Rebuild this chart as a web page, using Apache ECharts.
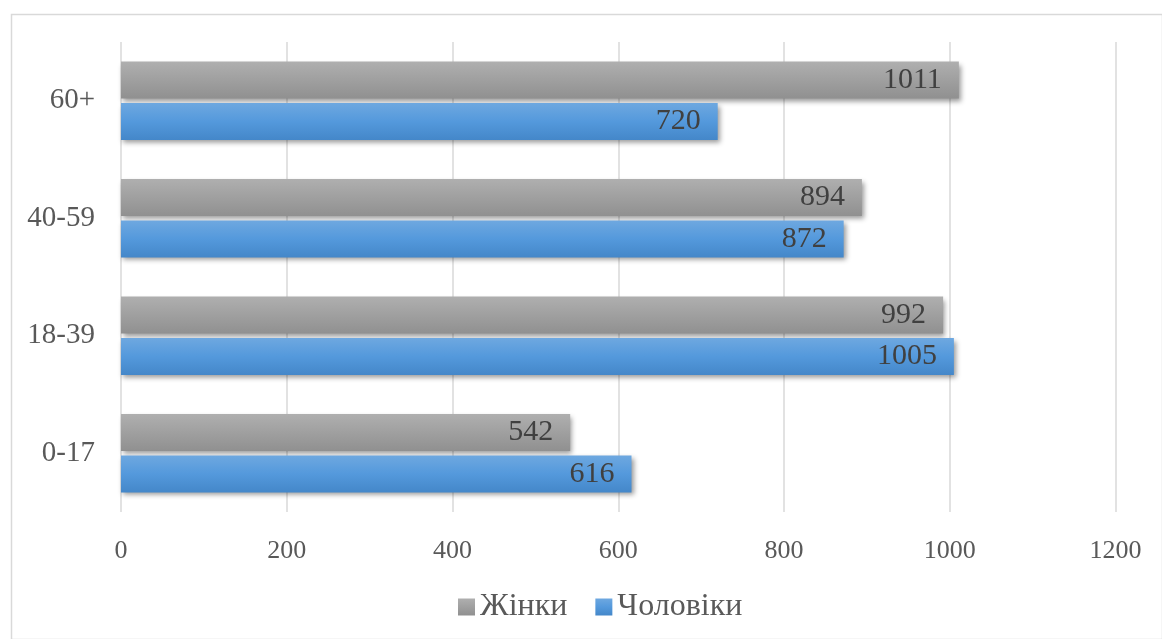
<!DOCTYPE html>
<html>
<head>
<meta charset="utf-8">
<script src="https://cdn.jsdelivr.net/npm/echarts@6/dist/echarts.min.js"></script>
<style>
html,body{margin:0;padding:0;background:#fff;}
#c{width:1162px;height:639px;}
</style>
</head>
<body>
<div id="c"></div>
<script>
const categories = ['0-17', '18-39', '40-59', '60+'];
const women = [542, 992, 894, 1011];
const men = [616, 1005, 872, 720];
const seriesNames = ['Жінки', 'Чоловіки'];

const chart = echarts.init(document.getElementById('c'));
const font = 'Liberation Serif';
const grayGrad = new echarts.graphic.LinearGradient(0, 0, 0, 1, [
  {offset: 0, color: '#afafaf'}, {offset: 1, color: '#909090'}
]);
const blueGrad = new echarts.graphic.LinearGradient(0, 0, 0, 1, [
  {offset: 0, color: '#6ea8e0'}, {offset: 0.5, color: '#5499dc'}, {offset: 1, color: '#4487c9'}
]);
const labelCfg = {
  show: true, position: 'insideRight', distance: 17,
  fontFamily: font, fontSize: 30, color: '#404040'
};
const shadow = {shadowColor: 'rgba(0,0,0,0.4)', shadowBlur: 5, shadowOffsetX: 2, shadowOffsetY: 3};

chart.setOption({
  animation: false,
  graphic: [{
    type: 'rect', left: 9, top: 12,
    shape: {width: 1151, height: 625},
    style: {fill: 'none', stroke: '#d9d9d9', lineWidth: 1.5}
  }],
  grid: {left: 121, right: 46.5, top: 42, bottom: 127},
  legend: {
    data: seriesNames, bottom: 11, left: 453,
    icon: 'rect', itemWidth: 17, itemHeight: 17, itemGap: 28,
    textStyle: {fontFamily: font, fontSize: 32, color: '#595959'},
    itemStyle: {shadowBlur: 0, shadowOffsetX: 0, shadowOffsetY: 0}
  },
  xAxis: {
    type: 'value', min: 0, max: 1200, interval: 200,
    axisLine: {show: false}, axisTick: {show: false},
    splitLine: {lineStyle: {color: '#d9d9d9', width: 1.5}},
    axisLabel: {fontFamily: font, fontSize: 26, color: '#595959', margin: 26,
      formatter: v => String(v)}
  },
  yAxis: {
    type: 'category', data: categories,
    axisLine: {show: false}, axisTick: {show: false},
    axisLabel: {fontFamily: font, fontSize: 29, color: '#595959', margin: 26, padding: [4, 0, 0, 0]}
  },
  series: [
    {name: seriesNames[0], type: 'bar', data: women, barWidth: 37, barGap: '12%',
     itemStyle: Object.assign({color: grayGrad}, shadow), label: labelCfg},
    {name: seriesNames[1], type: 'bar', data: men, barWidth: 37, barGap: '12%',
     itemStyle: Object.assign({color: blueGrad}, shadow), label: labelCfg}
  ]
});
</script>
</body>
</html>
